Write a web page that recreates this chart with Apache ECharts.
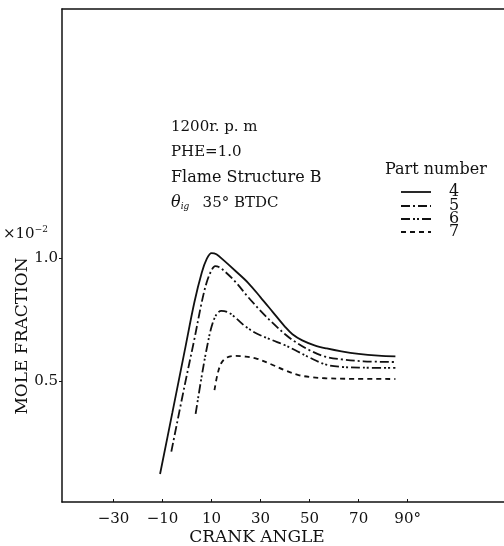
<!DOCTYPE html>
<html>
<head>
<meta charset="utf-8">
<script src="https://cdn.jsdelivr.net/npm/echarts@6/dist/echarts.min.js"></script>
<style>html,body{margin:0;padding:0;background:#fff;}#c{width:504px;height:546px;}</style>
</head>
<body>
<div id="c"></div>
<script>
// ---- data (crank angle in degrees, mole fraction x10^-2) ----
const partNames = ['4', '5', '6', '7'];
const angle4 = [-11, -6, -1, 3, 6, 8, 10, 12, 15, 20, 25, 30, 35, 40, 43, 47, 52, 57, 63, 70, 78, 85];
const mole4  = [0.122, 0.37, 0.62, 0.82, 0.94, 0.995, 1.02, 1.015, 0.99, 0.945, 0.898, 0.84, 0.78, 0.72, 0.69, 0.665, 0.645, 0.632, 0.62, 0.61, 0.603, 0.60];
const angle5 = [-6.4, -1, 3, 6, 8, 10, 11.5, 13, 16, 20, 25, 30, 34.5, 40, 44, 50, 56, 63, 72, 85];
const mole5  = [0.213, 0.48, 0.67, 0.82, 0.90, 0.95, 0.967, 0.963, 0.94, 0.90, 0.84, 0.785, 0.74, 0.69, 0.66, 0.625, 0.60, 0.588, 0.58, 0.577];
const angle6 = [3.5, 6, 8, 10, 12, 14, 17, 20, 24, 29, 34.5, 40, 44, 50, 56.5, 63, 72, 85];
const mole6  = [0.366, 0.52, 0.63, 0.72, 0.77, 0.785, 0.778, 0.755, 0.72, 0.69, 0.667, 0.645, 0.626, 0.595, 0.567, 0.557, 0.554, 0.553];
const angle7 = [11.2, 12.5, 14, 16, 19.5, 23, 28, 34.5, 40, 45.5, 51, 56.5, 65, 85];
const mole7  = [0.463, 0.53, 0.573, 0.594, 0.602, 0.60, 0.592, 0.567, 0.543, 0.524, 0.515, 0.511, 0.509, 0.508];
const xTickValues = [-30, -10, 10, 30, 50, 70, 90];
const yTickValues = [0.5, 1.0];

const annotation = ['1200r. p. m', 'PHE=1.0', 'Flame Structure B'];

function pairs(xs, ys) { return xs.map((x, i) => [x, ys[i]]); }

const FONT = '"DejaVu Serif", "Liberation Serif", serif';
const INK = '#111';
const dashes = [null, [9, 3, 2, 3], [9, 3, 2, 2, 2, 3], [5, 4]];
const seriesData = [pairs(angle4, mole4), pairs(angle5, mole5), pairs(angle6, mole6), pairs(angle7, mole7)];

const legendRowsY = [192, 206, 219, 232];
const legendGraphics = [];
partNames.forEach((n, i) => {
  legendGraphics.push({ type: 'line', shape: { x1: 401, y1: legendRowsY[i], x2: 431, y2: legendRowsY[i] },
    style: { stroke: INK, lineWidth: 1.8, lineDash: dashes[i] || null } });
  legendGraphics.push({ type: 'text', x: 449, y: legendRowsY[i],
    style: { text: n, font: '16px ' + FONT, fill: INK, verticalAlign: 'middle' } });
});

const chart = echarts.init(document.getElementById('c'), null, { renderer: 'canvas' });
chart.setOption({
  backgroundColor: '#fff',
  animation: false,
  grid: { left: 62, top: 9, right: -2, bottom: 44, containLabel: false },
  xAxis: [{
    type: 'value', min: -51, max: 129.3,
    axisLine: { show: true, lineStyle: { color: INK, width: 1.5 } },
    axisTick: { show: true, inside: true, length: 3, customValues: xTickValues, lineStyle: { color: INK } },
    axisLabel: {
      customValues: xTickValues, margin: 10,
      fontFamily: FONT, fontSize: 15, color: INK,
      formatter: v => (v === 90 ? '90°' : (v < 0 ? '\u2212' + Math.abs(v) : String(v)))
    },
    splitLine: { show: false }
  }, {
    type: 'value', min: -51, max: 129.3, position: 'top',
    axisLine: { show: true, onZero: false, lineStyle: { color: INK, width: 1.5 } },
    axisTick: { show: false }, axisLabel: { show: false }, splitLine: { show: false }
  }],
  yAxis: {
    type: 'value', min: 0.008, max: 2.012,
    axisLine: { show: true, onZero: false, lineStyle: { color: INK, width: 1.5 } },
    axisTick: { show: true, inside: false, length: 3, customValues: yTickValues, lineStyle: { color: INK } },
    axisLabel: {
      customValues: yTickValues, margin: 4,
      fontFamily: FONT, fontSize: 15, color: INK,
      formatter: v => v.toFixed(1)
    },
    splitLine: { show: false }
  },
  series: partNames.map((n, i) => ({
    name: n, type: 'line', smooth: 0.35, symbol: 'none',
    data: seriesData[i],
    lineStyle: { color: INK, width: 1.8, type: dashes[i] || 'solid' },
    itemStyle: { color: INK }
  })),
  graphic: [
    { type: 'text', left: 171, top: 120, style: { text: annotation[0], font: '15px ' + FONT, fill: INK } },
    { type: 'text', left: 171, top: 145, style: { text: annotation[1], font: '15px ' + FONT, fill: INK } },
    { type: 'text', left: 171, top: 170, style: { text: annotation[2], font: '16px ' + FONT, fill: INK } },
    { type: 'text', left: 171, top: 195, style: {
        text: '{t|θ}{s|ig}    {n|35° BTDC}',
        rich: {
          t: { fontFamily: FONT, fontSize: 16, fontStyle: 'italic', fill: INK },
          s: { fontFamily: FONT, fontSize: 9, fontStyle: 'italic', fill: INK, padding: [8, 0, 0, 0] },
          n: { fontFamily: FONT, fontSize: 15, fill: INK }
        } } },
    { type: 'text', left: 385, top: 162, style: { text: 'Part number', font: '16px ' + FONT, fill: INK } },
    { type: 'text', left: 3, top: 225, style: {
        text: '{a|×10}{b|−2}',
        rich: {
          a: { fontFamily: FONT, fontSize: 15, fill: INK },
          b: { fontFamily: FONT, fontSize: 9, fill: INK, padding: [0, 0, 10, 0] }
        } } },
    { type: 'text', x: 23, y: 336, rotation: Math.PI / 2, style: {
        text: 'MOLE FRACTION', font: '17px ' + FONT, fill: INK, align: 'center', verticalAlign: 'middle' } },
    { type: 'text', x: 257, y: 538, style: {
        text: 'CRANK ANGLE', font: '17px ' + FONT, fill: INK, align: 'center', verticalAlign: 'middle' } }
  ].concat(legendGraphics)
});
</script>
</body>
</html>
